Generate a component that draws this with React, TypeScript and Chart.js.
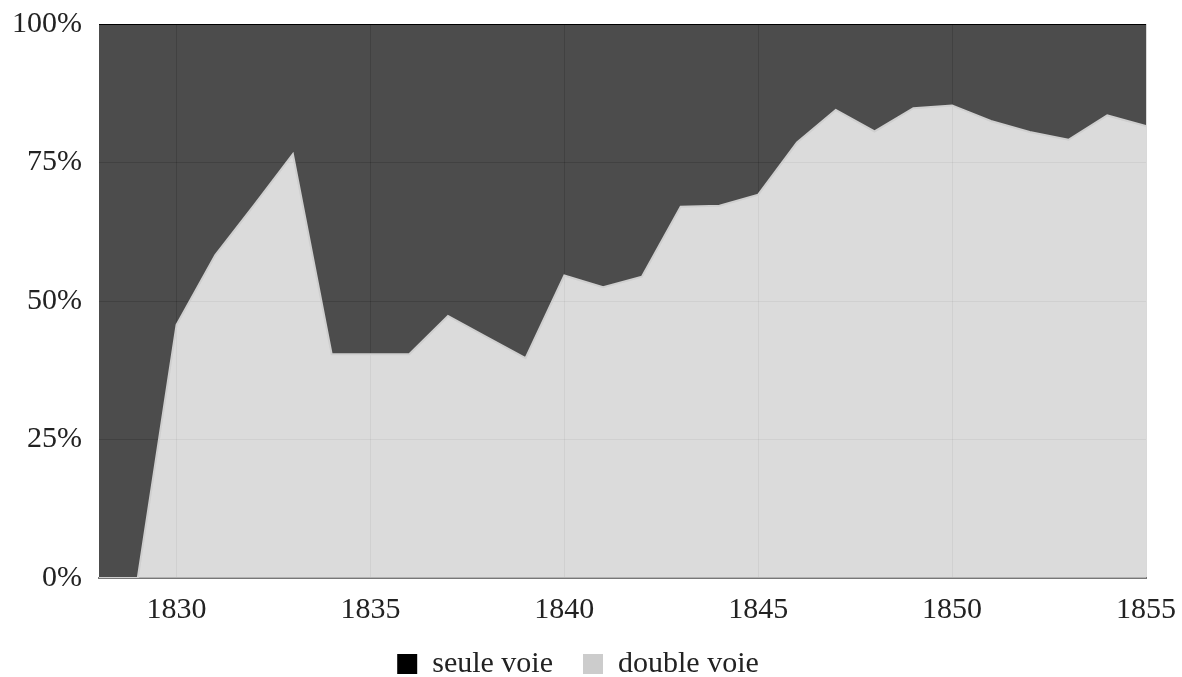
import React, { useEffect, useRef } from "react";
import { Chart, registerables } from "chart.js";

Chart.register(...registerables);

const years = [
  1828, 1829, 1830, 1831, 1832, 1833, 1834, 1835, 1836, 1837, 1838, 1839, 1840, 1841,
  1842, 1843, 1844, 1845, 1846, 1847, 1848, 1849, 1850, 1851, 1852, 1853, 1854, 1855,
];
const doubleVoie = [
  0, 0, 45.7, 58.3, 67.3, 76.5, 40.4, 40.4, 40.4, 47.3, 43.5, 39.7, 54.6, 52.5,
  54.4, 67.0, 67.2, 69.2, 78.6, 84.5, 80.6, 84.8, 85.3, 82.5, 80.5, 79.1, 83.5, 81.6,
];
const seuleVoie = [
  100, 100, 54.3, 41.7, 32.7, 23.5, 59.6, 59.6, 59.6, 52.7, 56.5, 60.3, 45.4, 47.5,
  45.6, 33.0, 32.8, 30.8, 21.4, 15.5, 19.4, 15.2, 14.7, 17.5, 19.5, 20.9, 16.5, 18.4,
];
const xTickYears = [1830, 1835, 1840, 1845, 1850, 1855];
const yTickValues = [0, 25, 50, 75, 100];
const seriesLabels = ["double voie", "seule voie"];

const FONT = { family: '"Liberation Serif", "Times New Roman", serif', size: 30 };
const TEXT = "#222222";
const GRID = "rgba(0,0,0,0.15)";
const legendColors = ["#cccccc", "#000000"];

export default function App() {
  const ref = useRef<HTMLCanvasElement>(null);

  useEffect(() => {
    if (!ref.current) return;
    const chart = new Chart(ref.current, {
      type: "line",
      data: {
        datasets: [
          {
            label: seriesLabels[0],
            data: years.map((x, i) => ({ x, y: doubleVoie[i] })),
            backgroundColor: "rgba(204,204,204,0.7)",
            borderColor: "#cfcfcf",
            borderWidth: 2,
            fill: "origin",
            pointRadius: 0,
            tension: 0,
          },
          {
            label: seriesLabels[1],
            data: years.map((x, i) => ({ x, y: seuleVoie[i] })),
            backgroundColor: "rgba(0,0,0,0.7)",
            borderColor: "#000000",
            borderWidth: 2,
            fill: "-1",
            pointRadius: 0,
            tension: 0,
          },
        ],
      },
      options: {
        responsive: false,
        animation: false,
        layout: { padding: { left: 10, right: 36, top: 24, bottom: 0 } },
        scales: {
          x: {
            type: "linear",
            min: 1828,
            max: 1855,
            afterBuildTicks: (s: any) => {
              s.ticks = xTickYears.map((v) => ({ value: v }));
            },
            afterFit: (s: any) => {
              s.height = 41;
              s.paddingLeft = 0;
              s.paddingRight = 0;
            },
            ticks: {
              font: FONT,
              color: TEXT,
              padding: 14,
              maxRotation: 0,
              callback: (v: any) => String(v),
            },
            grid: { color: GRID, drawTicks: false },
            border: { color: "#777777", width: 2 },
          },
          y: {
            stacked: true,
            min: 0,
            max: 100,
            afterBuildTicks: (s: any) => {
              s.ticks = yTickValues.map((v) => ({ value: v }));
            },
            afterFit: (s: any) => {
              s.width = 89;
              s.paddingTop = 0;
              s.paddingBottom = 0;
            },
            ticks: {
              font: FONT,
              color: TEXT,
              padding: 17,
              callback: (v: any) => v + "%",
            },
            grid: { color: GRID, drawTicks: false },
            border: { display: false },
          },
        },
        plugins: {
          legend: {
            position: "bottom",
            reverse: true,
            maxHeight: 58,
            labels: {
              boxWidth: 20,
              boxHeight: 20,
              padding: 30,
              font: FONT,
              color: TEXT,
              generateLabels: (c: any) => {
                const items = (Chart.defaults.plugins.legend.labels as any).generateLabels(c);
                return items.map((it: any) => ({
                  ...it,
                  fillStyle: legendColors[it.datasetIndex],
                  strokeStyle: legendColors[it.datasetIndex],
                  lineWidth: 0,
                }));
              },
            },
          },
          tooltip: { enabled: false },
        },
      } as any,
    });
    return () => chart.destroy();
  }, []);

  return (
    <div
      style={{
        position: "absolute",
        left: 0,
        top: 0,
        width: 1182,
        height: 677,
        overflow: "hidden",
        background: "#ffffff",
      }}
    >
      <canvas ref={ref} width={1182} height={677} style={{ display: "block" }} />
    </div>
  );
}
